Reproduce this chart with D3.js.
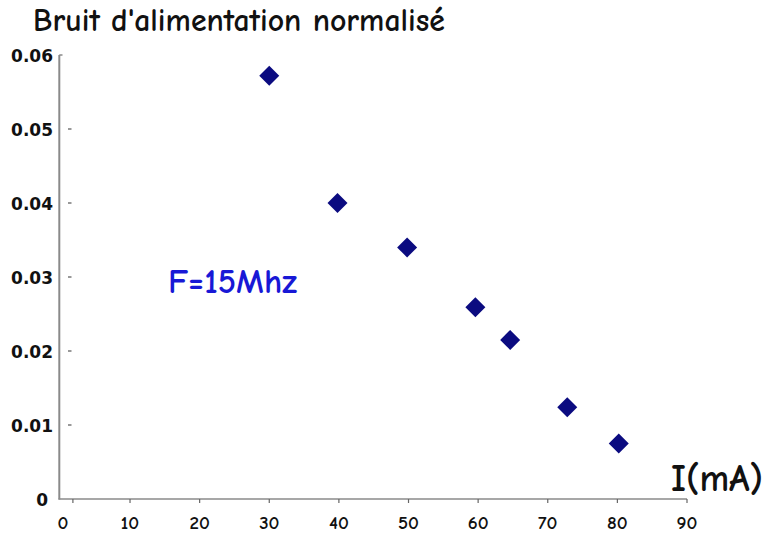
<!DOCTYPE html>
<html><head><meta charset="utf-8">
<script src="https://cdn.jsdelivr.net/npm/d3@7"></script>
<style>body{margin:0;background:#fff}svg{display:block}</style>
</head><body>
<script>
const currentMA = [30, 39.8, 49.8, 59.6, 64.6, 72.8, 80.2];
const noise = [0.0572, 0.0400, 0.0340, 0.0259, 0.0215, 0.0124, 0.0075];
const xTicks = [0, 10, 20, 30, 40, 50, 60, 70, 80, 90];
const yTicks = [0, 0.01, 0.02, 0.03, 0.04, 0.05, 0.06];
const yTickLabels = ["0", "0.01", "0.02", "0.03", "0.04", "0.05", "0.06"];
const title = "Bruit d'alimentation normalisé";
const annotation = "F=15Mhz";
const xTitle = "I(mA)";

const W = 765, H = 533;
const svg = d3.select("body").append("svg").attr("width", W).attr("height", H);
const x = d3.scaleLinear().domain([0, 90]).range([60.4, 687]);
const y = d3.scaleLinear().domain([0, 0.06]).range([499, 55]);
const comic = "'Comic Sans MS','Comic Neue','DejaVu Sans',sans-serif";

function fit(t, w) {
  const n = t.node(); const fs = parseFloat(t.attr("font-size"));
  const cur = n.getComputedTextLength();
  if (cur > 0) t.attr("font-size", fs * w / cur);
}

// axes
const axisCol = "#8a8a8a";
svg.append("line").attr("x1", 59.3).attr("x2", 59.3).attr("y1", y(0.06)).attr("y2", y(0) + 0.5)
  .attr("stroke", axisCol).attr("stroke-width", 2);
svg.append("line").attr("x1", 59.3).attr("x2", 62.5).attr("y1", y(0.06)).attr("y2", y(0.06))
  .attr("stroke", axisCol).attr("stroke-width", 1.5);
svg.append("line").attr("x1", 58.5).attr("x2", x(90)).attr("y1", y(0)).attr("y2", y(0))
  .attr("stroke", axisCol).attr("stroke-width", 1.5);

// x ticks
svg.append("g").selectAll("line").data(xTicks.filter(d => d > 0)).join("line")
  .attr("x1", d => x(d)).attr("x2", d => x(d)).attr("y1", y(0)).attr("y2", y(0) + 4)
  .attr("stroke", "#666").attr("stroke-width", 1.2);
svg.append("line").attr("x1", x(0) + 12.5).attr("x2", x(0) + 12.5).attr("y1", y(0)).attr("y2", y(0) + 4)
  .attr("stroke", "#666").attr("stroke-width", 1.2);
svg.append("g").selectAll("text").data(xTicks).join("text")
  .attr("x", d => x(d) + (d === 0 ? 2.5 : 0)).attr("y", 529)
  .attr("text-anchor", "middle").attr("font-family", comic).attr("font-weight", "bold")
  .attr("font-size", 19).attr("fill", "#111").text(d => d);

// y ticks (detached dashes)
svg.append("g").selectAll("line").data(yTicks.filter(d => d > 0 && d < 0.06)).join("line")
  .attr("x1", 68).attr("x2", 71.5).attr("y1", d => y(d)).attr("y2", d => y(d))
  .attr("stroke", "#555").attr("stroke-width", 1.2);
svg.append("g").selectAll("text").data(yTicks).join("text")
  .attr("x", (d, i) => i === 0 ? 48 : 53).attr("y", (d, i) => y(d) + 6.5)
  .attr("text-anchor", "end").attr("font-family", "'DejaVu Sans',sans-serif").attr("font-weight", "bold")
  .attr("font-size", 17).attr("fill", "#111").text((d, i) => yTickLabels[i]);

// points
const sym = d3.symbol().type(d3.symbolSquare).size(200);
svg.append("g").selectAll("path").data(currentMA.map((c, i) => [c, noise[i]])).join("path")
  .attr("d", sym).attr("transform", d => `translate(${x(d[0])},${y(d[1])}) rotate(45)`)
  .attr("fill", "#0b0b80");

// texts
const tt = svg.append("text").attr("x", 33).attr("y", 31).attr("font-family", comic)
  .attr("font-weight", "bold").attr("font-size", 24).attr("fill", "#111").text(title);
fit(tt, 412);
const an = svg.append("text").attr("x", 168).attr("y", 293).attr("font-family", comic)
  .attr("font-weight", "bold").attr("font-size", 26).attr("fill", "#1818d6").text(annotation);
fit(an, 129);
const xt = svg.append("text").attr("x", 671).attr("y", 491).attr("font-family", comic)
  .attr("font-weight", "bold").attr("font-size", 30).attr("fill", "#111").text(xTitle);
fit(xt, 92);
</script>
</body></html>
